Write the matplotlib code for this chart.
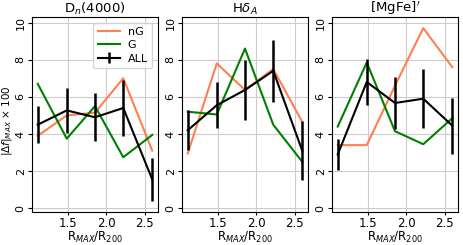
import numpy as np
import matplotlib
matplotlib.use("Agg")
import matplotlib.pyplot as plt

# R_MAX / R_200 bins
r_bins = [1.10, 1.48, 1.85, 2.22, 2.60]

titles = [r"D$_n$(4000)", r"H$\delta_A$", r"[MgFe]$'$"]

# |Δf|_MAX x 100 per index
dn4000_ng = [3.9, 5.0, 5.15, 7.0, 3.1]
dn4000_g = [6.7, 3.75, 5.5, 2.75, 3.95]
dn4000_all = [4.5, 5.27, 4.9, 5.4, 1.55]
dn4000_err = [1.0, 1.2, 1.3, 1.5, 1.15]

hda_ng = [2.95, 7.8, 6.37, 7.5, 4.65]
hda_g = [5.2, 5.05, 8.6, 4.5, 2.5]
hda_all = [4.2, 5.55, 6.37, 7.4, 3.1]
hda_err = [1.07, 1.23, 1.6, 1.65, 1.58]

mgfe_ng = [3.4, 3.4, 6.6, 9.7, 7.6]
mgfe_g = [4.4, 7.85, 4.15, 3.45, 4.85]
mgfe_all = [2.9, 6.8, 5.67, 5.9, 4.45]
mgfe_err = [0.85, 1.23, 1.4, 1.6, 1.5]

panels = [
    (dn4000_ng, dn4000_g, dn4000_all, dn4000_err),
    (hda_ng, hda_g, hda_all, hda_err),
    (mgfe_ng, mgfe_g, mgfe_all, mgfe_err),
]

plt.rcParams["font.size"] = 8.5

fig = plt.figure(figsize=(4.63, 2.45), dpi=100)
W, H = 463, 245
lefts = [32, 182, 332]
axw = 126
top, bot = 17, 212

for i, (ng, g, al, err) in enumerate(panels):
    ax = fig.add_axes([lefts[i] / W, 1 - bot / H, axw / W, (bot - top) / H])
    ax.plot(r_bins, ng, color="coral", lw=1.5, label="nG")
    ax.plot(r_bins, g, color="green", lw=1.5, label="G")
    ax.errorbar(r_bins, al, yerr=err, color="black", lw=1.5, elinewidth=1.8,
                label="ALL")
    ax.set_ylim(-0.2, 10.3)
    ax.set_xticks([1.5, 2.0, 2.5])
    ax.set_yticks([0, 2, 4, 6, 8, 10])
    ax.grid(True, color="#cccccc", lw=0.8)
    ax.set_axisbelow(True)
    ax.tick_params(axis="y", labelrotation=90, labelsize=8, length=3, pad=1.5)
    ax.tick_params(axis="x", length=2, pad=1.5)
    for t in ax.get_yticklabels():
        t.set_va("center")
    ax.set_title(titles[i], fontsize=9.5, pad=2)
    ax.set_xlabel(r"R$_{MAX}$/R$_{200}$", labelpad=0)
    if i == 0:
        ax.set_ylabel(r"|Δ$f$|$_{MAX}$ × 100", fontsize=7.5)
        ax.yaxis.set_label_coords((14.5 - lefts[0]) / axw, 0.47)
        ax.legend(loc="upper right", fontsize=8, handlelength=2.0,
                  handletextpad=0.7, borderpad=0.4, labelspacing=0.3)

fig.savefig("out.png", dpi=100)
